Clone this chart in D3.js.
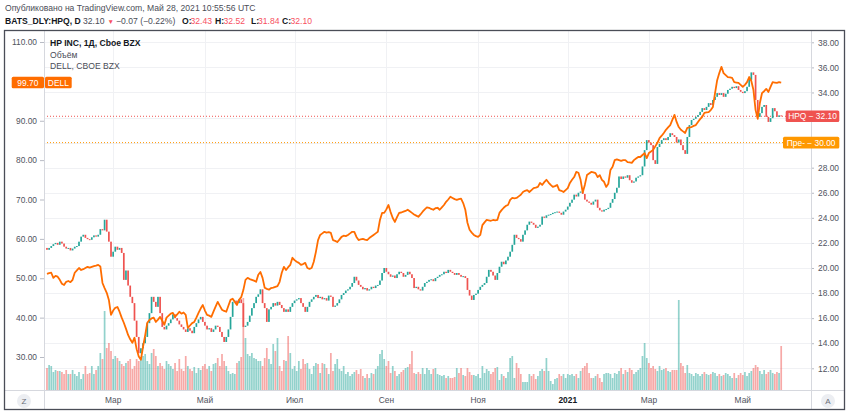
<!DOCTYPE html>
<html>
<head>
<meta charset="utf-8">
<script src="https://cdn.jsdelivr.net/npm/d3@7"></script>
<style>
  body { margin: 0; background: #fff; }
  svg { display: block; font-family: "Liberation Sans", Arial, sans-serif; }
</style>
</head>
<body>
<svg id="chart" width="850" height="415"></svg>
<script>
// data +++++++++++++++++++++++++++++++++++++++++
const firstDay = "2020-01-15";
const lastDay = "2021-05-27";
const holidays = ["2020-01-20", "2020-02-17", "2020-04-10", "2020-05-25", "2020-07-03", "2020-09-07",
  "2020-11-26", "2020-12-25", "2021-01-01", "2021-01-18", "2021-02-15", "2021-04-02"];
const monthNames = ["Янв", "Фев", "Мар", "Апр", "Май", "Июн", "Июл", "Авг", "Сен", "Окт", "Ноя", "Дек"];

const hpqFirstOpen = 21.6;
const hpqClose = [
  21.45, 21.6, 21.75, 21.9, 22.0, 21.85, 22.1, 21.95, 21.7, 21.55,
  21.6, 21.4, 21.55, 21.7, 21.75, 22.1, 22.5, 22.65, 22.4, 22.3,
  22.25, 22.45, 22.6, 22.5, 22.65, 23.1, 23.0, 23.85, 22.9, 22.1,
  20.9, 21.3, 21.7, 21.45, 21.6, 21.2, 19.05, 19.8, 18.6, 17.7,
  17.2, 15.8, 14.5, 13.2, 13.6, 14.0, 14.5, 15.6, 16.4, 17.7,
  17.3, 16.9, 17.7, 16.4, 15.3, 15.1, 15.4, 15.6, 15.9, 16.3,
  16.0, 15.8, 15.5, 15.3, 15.1, 14.9, 15.2, 15.0, 14.8, 15.3,
  15.6, 15.9, 16.1, 15.7, 15.4, 15.1, 15.2, 14.9, 15.1, 15.4,
  15.3, 14.9, 14.5, 14.1, 14.5, 15.1, 16.1, 17.3, 17.4, 17.2,
  17.5, 17.2, 15.3, 15.4, 15.7, 16.2, 16.8, 17.2, 17.7, 17.9,
  18.3, 17.2, 16.8, 15.7, 16.7, 16.9, 17.2, 17.0, 17.3, 17.05,
  16.8, 16.5, 16.7, 16.5, 16.9, 17.2, 17.4, 17.5, 17.6, 17.2,
  16.9, 16.5, 16.9, 17.3, 17.5, 17.7, 17.85, 17.6, 17.7, 17.5,
  17.6, 17.4, 17.8, 17.7, 16.9, 17.0, 17.2, 17.5, 17.85, 18.0,
  18.2, 18.3, 18.5, 18.8, 19.3, 19.0, 18.65, 18.5, 18.3, 18.4,
  18.2, 18.3, 18.5, 18.4, 18.6, 18.65, 19.0, 19.6, 20.0, 19.7,
  19.5, 19.3, 19.4, 19.2, 19.5, 19.7, 19.6, 19.3, 19.45, 19.7,
  19.5, 19.2, 18.4, 18.5, 18.3, 18.2, 18.5, 18.8, 18.9, 19.05,
  19.1, 18.95, 19.2, 19.3, 19.45, 19.5, 19.7, 19.6, 19.85, 19.7,
  19.6, 19.45, 19.6, 19.45, 19.3, 19.35, 19.2, 18.25, 17.8, 17.45,
  17.85, 17.95, 18.25, 18.5, 18.65, 18.8, 19.3, 19.85, 19.7, 19.4,
  19.05, 19.6, 20.1, 20.5, 20.3, 20.6, 20.9, 21.3, 21.85, 22.65,
  22.4, 22.3, 22.1, 22.65, 23.0, 23.45, 23.7, 23.6, 23.45, 23.2,
  23.3, 23.45, 24.1, 24.0, 24.2, 24.25, 24.3, 24.4, 24.45, 24.5,
  24.4, 24.25, 24.5, 24.65, 24.9, 25.2, 25.45, 25.85, 25.7, 26.0,
  26.1, 25.9, 25.45, 25.3, 25.2, 25.05, 25.3, 25.45, 24.8, 24.6,
  24.5, 24.65, 24.7, 24.8, 25.2, 25.5, 26.0, 26.4, 27.3, 27.1,
  27.3, 27.2, 27.4, 27.0, 26.8, 26.9, 27.2, 27.3, 27.4, 28.1,
  29.4, 30.2, 30.0, 29.8, 28.6, 28.3, 29.65, 29.9, 30.2, 30.35,
  30.2, 30.45, 30.75, 30.6, 30.45, 30.0, 30.25, 29.8, 29.4, 29.1,
  30.45, 31.4, 31.8, 31.9, 32.05, 32.2, 32.45, 32.75, 32.6, 32.85,
  33.15, 33.0, 33.4, 33.65, 33.95, 33.8, 33.95, 33.65, 33.9, 34.2,
  34.3, 34.45, 34.35, 34.5, 34.2, 34.05, 33.95, 34.1, 34.45, 35.0,
  35.6, 35.4, 33.4, 32.05, 32.35, 32.85, 33.0, 32.05, 31.65, 31.95,
  32.75, 32.5, 32.05, 32.17, 32.10
];

const dellClose = [
  51.1, 51.3, 51.4, 50.1, 50.6, 50.4, 49.6, 48.6, 48.3, 49.1,
  49.3, 49.0, 49.6, 51.4, 52.0, 52.6, 52.1, 52.3, 52.6, 52.9,
  52.7, 52.9, 53.1, 53.2, 53.4, 53.0, 48.8, 47.5, 46.3, 44.5,
  40.7, 41.8, 42.5, 42.7, 41.5, 40.0, 38.7, 37.2, 35.6, 34.5,
  33.6, 34.9, 32.0, 30.1, 29.3, 32.6, 35.5, 38.7, 39.4, 39.8,
  40.0, 38.9, 39.5, 40.2, 39.2, 38.2, 40.0, 40.5, 41.0, 41.2,
  40.2, 40.8, 41.5, 41.0, 41.3, 40.7, 37.4, 38.0, 38.6, 38.9,
  40.0, 41.2, 42.3, 43.2, 41.8, 40.7, 40.5, 40.2, 41.5, 42.8,
  44.0, 43.0, 42.0, 41.7, 41.5, 43.0, 44.5, 44.8, 44.0, 43.2,
  44.5, 45.2, 47.0, 49.6, 50.1, 49.8, 49.6, 49.4, 49.1, 50.9,
  51.6, 50.1, 47.6, 47.3, 47.1, 47.5, 47.6, 47.8, 48.0, 49.1,
  51.4, 52.9, 52.1, 52.8, 53.4, 55.2, 54.6, 54.2, 53.9, 53.4,
  53.6, 53.9, 52.6, 52.4, 52.6, 54.2, 56.7, 59.7, 61.0, 61.4,
  61.8, 61.6, 61.7, 61.5, 59.7, 59.5, 59.2, 59.8, 60.5, 60.8,
  60.7, 61.0, 61.4, 61.8, 61.8, 60.5, 59.7, 59.9, 60.0, 59.8,
  59.7, 60.2, 60.6, 61.0, 61.4, 61.8, 64.8, 66.6, 66.6, 67.5,
  68.6, 66.8, 65.3, 64.3, 65.5, 66.6, 66.7, 66.9, 67.1, 67.4,
  67.0, 66.6, 66.2, 65.9, 65.6, 66.2, 66.9, 67.5, 68.0, 67.9,
  67.6, 67.4, 67.8, 67.9, 67.4, 68.0, 68.6, 69.4, 70.0, 70.7,
  70.4, 70.1, 69.9, 70.1, 70.2, 69.1, 67.4, 64.1, 62.3, 61.6,
  61.0, 60.7, 60.5, 61.0, 63.5, 64.2, 64.8, 64.7, 64.6, 64.8,
  64.7, 64.8, 66.6, 67.3, 67.9, 68.4, 68.6, 69.9, 70.4, 70.3,
  70.4, 70.8, 71.2, 71.9, 72.2, 72.4, 71.9, 72.4, 72.9, 73.0,
  73.2, 74.2, 73.7, 74.4, 75.0, 74.3, 73.7, 73.2, 73.4, 73.7,
  72.4, 72.2, 71.9, 72.4, 72.9, 74.2, 75.0, 75.7, 77.0, 76.8,
  75.0, 71.8, 73.7, 76.2, 76.6, 77.0, 76.9, 76.7, 75.7, 76.2,
  75.0, 74.5, 73.2, 74.0, 77.5, 78.3, 80.0, 80.2, 80.0, 79.8,
  80.0, 80.0, 79.5, 79.4, 79.3, 80.0, 80.4, 80.8, 80.8, 81.3,
  81.8, 80.5, 81.8, 82.2, 82.6, 83.5, 84.4, 85.6, 86.2, 86.9,
  87.7, 88.3, 88.9, 90.2, 91.5, 89.7, 88.4, 87.7, 87.3, 86.9,
  88.2, 88.3, 88.4, 88.7, 88.9, 89.7, 90.4, 91.0, 92.0, 92.1,
  92.2, 92.7, 93.5, 97.0, 100.3, 102.1, 103.7, 102.1, 101.6, 101.1,
  101.0, 100.9, 99.8, 99.7, 99.6, 99.1, 98.6, 99.1, 99.8, 101.1,
  100.1, 97.8, 92.7, 90.5, 94.5, 97.0, 97.5, 98.1, 97.3, 98.6,
  99.8, 99.7, 99.6, 99.8, 99.7
];

// HPQ volume, millions of shares
const hpqVolume = [
  11, 12.5, 12, 9, 10, 9.5, 9.5, 9, 8, 10,
  8, 8, 10, 8, 7, 9, 5.5, 8, 12, 8,
  8.5, 12, 8, 10, 12, 18.5, 15.5, 39.5, 21, 23.5,
  19.5, 15.5, 17, 16, 14.5, 13, 12, 13.5, 14.5, 15.5,
  10.5, 12, 15.5, 14.5, 16, 17, 18, 14.5, 13, 18.5,
  20.5, 17, 12, 13.5, 12, 10.5, 14.5, 13, 12, 10.5,
  13.5, 9.5, 15.5, 10.5, 9.5, 17, 12, 10.5, 9.5, 11.5,
  8.5, 11, 10, 12, 13, 10.5, 12, 9.5, 13, 13.5,
  16, 12, 18, 14.5, 12, 9.5, 8, 8.5, 8, 13.5,
  14.5, 16.5, 46, 26, 18, 17, 18.5, 16, 15.5, 14.5,
  14.5, 12, 16, 21, 15.5, 13, 23, 19.5, 26, 12,
  9.5, 15, 14.5, 27, 18.5, 10.5, 12, 9.5, 14.5, 10.5,
  15.5, 13, 13.5, 10.5, 8, 12, 13.5, 13, 8.5, 13.5,
  13, 11, 8, 18.5, 9.5, 13, 15.5, 10.5, 9.5, 12,
  8, 9, 7, 8, 9, 10, 8, 10.5, 7, 6,
  8, 6, 8.5, 8, 10.5, 12, 18, 20, 15.5, 12,
  14.5, 8.5, 12, 9.5, 7, 8, 9, 10, 11, 11.5,
  13, 19.5, 8.5, 8, 9, 8, 11, 8, 11, 10,
  8, 10.5, 11, 8, 7.5, 7, 7.5, 6, 7, 6,
  6, 6.5, 11, 8.5, 11, 7.5, 7, 11, 9, 7.5,
  7.5, 7, 8, 6, 12, 8.5, 10.5, 9.5, 8, 9,
  11, 11.5, 5, 8, 7, 6, 9, 16, 17, 6,
  13.5, 11, 8, 4, 4, 4, 8, 7, 8, 5.5,
  7, 9.5, 10.5, 9.5, 16, 9.5, 4.5, 3, 5.5, 6,
  8, 7, 8, 6, 8, 7.5, 8, 7, 8, 6,
  9.5, 11, 12, 13.5, 8.5, 6, 6, 7, 8, 6,
  4, 8, 8.5, 8.5, 8, 6, 8.5, 8, 9.5, 11,
  8, 10, 9, 11, 10, 8, 9, 10, 11, 17,
  23.5, 16, 13.5, 11, 12, 10.5, 9.5, 12, 10, 10.5,
  11, 9.5, 9, 10, 10, 10, 45, 13.5, 12, 8.5,
  12.5, 8.5, 8, 7, 8.5, 8, 7, 8, 9, 8,
  7.5, 8, 9, 8.5, 7, 8, 7, 7.5, 8.5, 8,
  7, 6, 8.5, 6, 7.5, 8.5, 7.5, 9, 7, 8.5,
  9.5, 11, 12.5, 11.5, 9.5, 8, 10, 8, 9, 10,
  8.5, 8, 9, 8.5, 22
];

const dellTicks = [30, 40, 50, 60, 70, 80, 90, 100, 110];
const hpqTicks = [12, 14, 16, 18, 20, 22, 24, 26, 28, 30, 32, 34, 36, 38];
const hpqLast = 32.10;
const hpqPrevLine = 30.00;
const dellLast = 99.70;
// data -----------------------------------------

const up = "#26a69a", down = "#ef5350", dellColor = "#ff6d00";
const pL = 44, pR = 811, pT = 31, pB = 390;

const parse = d3.utcParse("%Y-%m-%d");
const fmt = d3.utcFormat("%Y-%m-%d");
const days = d3.utcDay.range(parse(firstDay), d3.utcDay.offset(parse(lastDay), 1))
  .filter(d => d.getUTCDay() % 6 !== 0 && !holidays.includes(fmt(d)));

const bars = days.map((d, i) => ({
  key: fmt(d),
  date: d,
  open: i === 0 ? hpqFirstOpen : hpqClose[i - 1],
  close: hpqClose[i],
  dell: dellClose[i],
  vol: hpqVolume[i]
})).filter(b => b.close !== undefined);

const svg = d3.select("#chart");

// Scales
const x = d3.scaleBand().domain(bars.map(b => b.key)).range([45.7, 45.7 + bars.length * 2.1356]).padding(0.2);
const cx = k => x(k) + x.bandwidth() / 2;
const yH = d3.scaleLinear().domain([12, 38]).range([368.3, 42.3]);
const yD = d3.scaleLinear().domain([30, 110]).range([357, 42]);
const yV = d3.scaleLinear().domain([0, 50]).range([pB, 290]);

svg.append("defs").append("clipPath").attr("id", "plot")
  .append("rect").attr("x", pL).attr("y", pT).attr("width", pR - pL).attr("height", pB - pT);

// Grid
const monthStarts = bars.filter((b, i) => i > 0 &&
  b.date.getUTCMonth() !== bars[i - 1].date.getUTCMonth() && b.date.getUTCMonth() % 2 === 0);

const grid = svg.append("g").attr("stroke", "#f0f1f4").attr("stroke-width", 1);
grid.selectAll("line.h").data(hpqTicks).enter().append("line")
  .attr("x1", pL).attr("x2", pR)
  .attr("y1", d => Math.round(yH(d)) + 0.5).attr("y2", d => Math.round(yH(d)) + 0.5);
grid.selectAll("line.v").data(monthStarts).enter().append("line")
  .attr("y1", pT).attr("y2", pB)
  .attr("x1", d => Math.round(cx(d.key)) + 0.5).attr("x2", d => Math.round(cx(d.key)) + 0.5);

// Price lines (dotted)
svg.append("line").attr("x1", pL).attr("x2", pR)
  .attr("y1", yH(hpqLast)).attr("y2", yH(hpqLast))
  .attr("stroke", "#ef5350").attr("stroke-width", 1).attr("stroke-dasharray", "1,2");
svg.append("line").attr("x1", pL).attr("x2", pR)
  .attr("y1", yH(hpqPrevLine)).attr("y2", yH(hpqPrevLine))
  .attr("stroke", "#ff9800").attr("stroke-width", 1).attr("stroke-dasharray", "1,2");

const plot = svg.append("g").attr("clip-path", "url(#plot)");

// Volume
plot.append("g").selectAll("rect").data(bars).enter().append("rect")
  .attr("x", d => x(d.key))
  .attr("width", x.bandwidth())
  .attr("y", d => yV(d.vol))
  .attr("height", d => pB - yV(d.vol))
  .attr("fill", d => d.close >= d.open ? up : down)
  .attr("fill-opacity", 0.5);

// Candles
plot.append("g").selectAll("rect").data(bars).enter().append("rect")
  .attr("x", d => x(d.key))
  .attr("width", x.bandwidth())
  .attr("y", d => yH(Math.max(d.open, d.close)))
  .attr("height", d => Math.max(1, Math.abs(yH(d.open) - yH(d.close))))
  .attr("fill", d => d.close >= d.open ? up : down);

// DELL line
plot.append("path").datum(bars)
  .attr("fill", "none")
  .attr("stroke", dellColor)
  .attr("stroke-width", 1.8)
  .attr("stroke-linejoin", "round")
  .attr("d", d3.line().x(d => cx(d.key)).y(d => yD(d.dell)));

// Axes (labels hidden where a last-price tag sits on top of them)
const axisColor = "#50535e";
const freeOf = (scale, tags) => v => tags.every(t => Math.abs(scale(v) - scale(t)) > 9);
const gl = svg.append("g").attr("transform", `translate(${pL},0)`)
  .call(d3.axisLeft(yD).tickValues(dellTicks.filter(freeOf(yD, [dellLast])))
    .tickSize(4).tickPadding(3).tickFormat(d3.format(".2f")));
const gr = svg.append("g").attr("transform", `translate(${pR},0)`)
  .call(d3.axisRight(yH).tickValues(hpqTicks.filter(freeOf(yH, [hpqLast, hpqPrevLine])))
    .tickSize(3).tickPadding(4).tickFormat(d3.format(".2f")));
const gb = svg.append("g").attr("transform", `translate(0,${pB})`)
  .call(d3.axisBottom(x).tickValues(monthStarts.map(b => b.key)).tickSize(0).tickPadding(7)
    .tickFormat(k => {
      const d = parse(k);
      return d.getUTCMonth() === 0 ? d.getUTCFullYear() : monthNames[d.getUTCMonth()];
    }));
[gl, gr, gb].forEach(g => {
  g.select(".domain").remove();
  g.selectAll(".tick line").attr("stroke", "#b8bbc4");
  g.selectAll(".tick text").attr("fill", axisColor).attr("font-size", 8.4)
    .attr("font-family", "Liberation Sans, Arial, sans-serif");
});
gb.selectAll(".tick text").filter(k => parse(k).getUTCMonth() === 0)
  .attr("font-weight", "bold").attr("fill", "#131722");

// Separators and frame
const sep = "#d6d8de";
svg.append("line").attr("x1", pL + 0.5).attr("x2", pL + 0.5).attr("y1", pT).attr("y2", 409).attr("stroke", sep);
svg.append("line").attr("x1", pR + 0.5).attr("x2", pR + 0.5).attr("y1", pT).attr("y2", 409).attr("stroke", sep);
svg.append("line").attr("x1", 5).attr("x2", 844).attr("y1", pB + 0.5).attr("y2", pB + 0.5).attr("stroke", sep);
svg.append("rect").attr("x", 4.5).attr("y", 30.5).attr("width", 840).attr("height", 379)
  .attr("fill", "none").attr("stroke", "#4a4d57").attr("stroke-width", 1.3);

// Last price labels
function tag(xp, yc, w, color, label) {
  svg.append("rect").attr("x", xp).attr("y", yc - 5.8).attr("width", w).attr("height", 11.6)
    .attr("rx", 1.5).attr("fill", color);
  svg.append("text").attr("x", xp + w / 2).attr("y", yc + 3).attr("text-anchor", "middle")
    .attr("font-size", 8.4).attr("fill", "#fff").text(label);
}
tag(785.7, yH(hpqLast), 53.6, "#ef5350", "HPQ \u2212 " + hpqLast.toFixed(2));
tag(783, yH(hpqPrevLine), 56.3, "#ff9800", "\u041f\u0440\u0435- \u2212 " + hpqPrevLine.toFixed(2));
tag(11.7, yD(dellLast), 32.3, dellColor, dellLast.toFixed(2));
tag(45, yD(dellLast), 26.7, dellColor, "DELL");

// Corner buttons
[[24, "Z"], [828, "A"]].forEach(([bx, t]) => {
  svg.append("circle").attr("cx", bx).attr("cy", 401).attr("r", 7).attr("fill", "#eceef2");
  svg.append("text").attr("x", bx).attr("y", 404).attr("text-anchor", "middle")
    .attr("font-size", 8).attr("fill", "#6a6d78").text(t);
});

// Legend
const legend = svg.append("g").attr("font-size", 8.6);
legend.append("text").attr("x", 50).attr("y", 46).attr("font-weight", "bold").attr("fill", "#131722")
  .text("HP INC, 1Д, Cboe BZX");
legend.append("text").attr("x", 50).attr("y", 57.5).attr("fill", "#4a4d57").text("Объём");
legend.append("text").attr("x", 50).attr("y", 69).attr("fill", "#4a4d57").text("DELL, CBOE BZX");

// Header
svg.append("text").attr("x", 5).attr("y", 11).attr("font-size", 8.6).attr("fill", "#4a4d57")
  .text("Опубликовано на TradingView.com, Май 28, 2021 10:55:56 UTC");
const red = "#f7525f";
const hdr = svg.append("g").attr("font-size", 8.6);
[
  [5, "BATS_DLY:HPQ, D", "#131722", "bold"],
  [83, "32.10", "#4a4d57"],
  [107.5, "\u25bc", red, "normal", 6.5],
  [116, "\u22120.07 (\u22120.22%)", "#4a4d57"],
  [182, "O:", "#131722", "bold"], [190.5, "32.43", red],
  [215, "H:", "#131722", "bold"], [223.5, "32.52", red],
  [251, "L:", "#131722", "bold"], [258, "31.84", red],
  [282, "C:", "#131722", "bold"], [290.5, "32.10", red]
].forEach(([tx, t, c, w, fs]) => {
  hdr.append("text").attr("x", tx).attr("y", 24).attr("fill", c)
    .attr("font-weight", w || "normal").attr("font-size", fs || 8.6).text(t);
});
</script>
</body>
</html>
